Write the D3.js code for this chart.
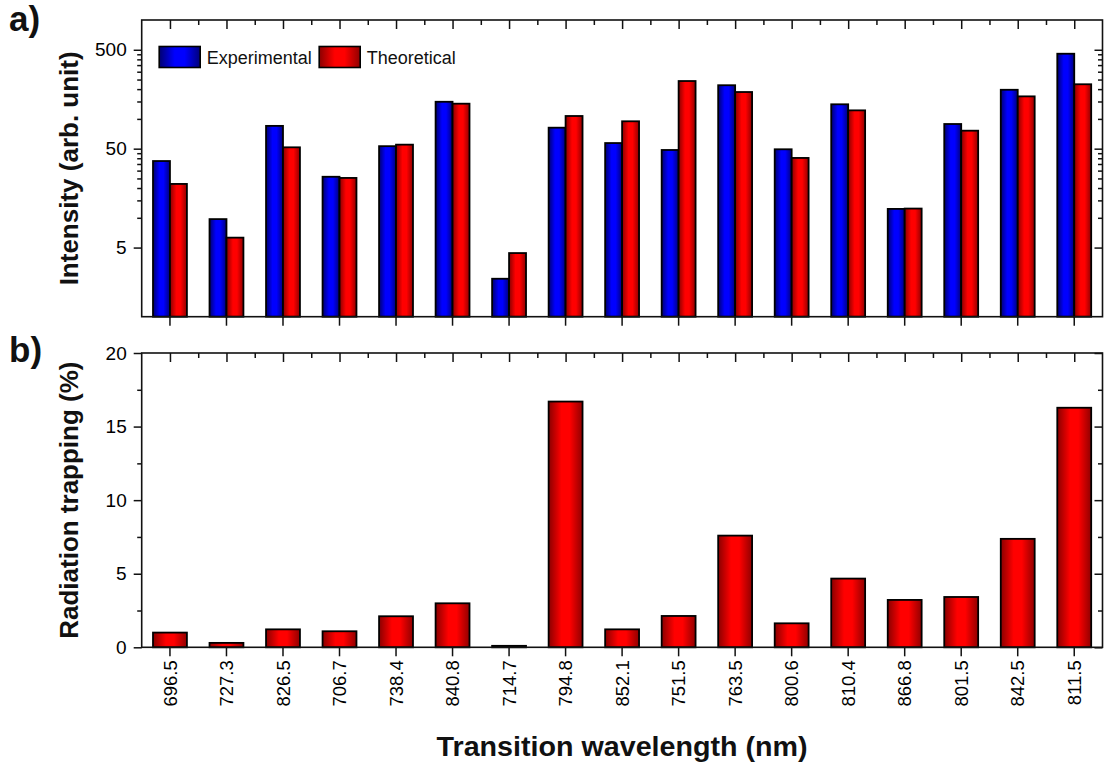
<!DOCTYPE html>
<html>
<head>
<meta charset="utf-8">
<script src="https://cdn.jsdelivr.net/npm/d3@7/dist/d3.min.js"></script>
<style>
  body { margin: 0; background: #fff; }
  svg { display: block; }
</style>
</head>
<body>
<div id="chart"></div>
<script>
// Data
const wavelengths = ["696.5", "727.3", "826.5", "706.7", "738.4", "840.8", "714.7", "794.8", "852.1",
  "751.5", "763.5", "800.6", "810.4", "866.8", "801.5", "842.5", "811.5"];
const experimental = [37.5, 9.7, 85, 26, 53, 149, 2.42, 81.5, 57, 48.5, 219, 49.3, 140.5, 12.3, 88.8, 197, 456];
const theoretical = [22, 6.3, 51.6, 25.3, 54.9, 142.5, 4.4, 107, 94.6, 241.5, 187, 40.3, 122, 12.4, 76, 169, 224];
const trapping = [1.0, 0.3, 1.22, 1.09, 2.11, 2.99, 0.1, 16.7, 1.22, 2.13, 7.59, 1.63, 4.67, 3.22, 3.42, 7.37, 16.28];

const intensityTicks = [5, 50, 500];
const intensityMinor = [10, 15, 20, 25, 30, 35, 40, 45, 100, 150, 200, 250, 300, 350, 400, 450];
const trappingTicks = [0, 5, 10, 15, 20];
const trappingMinor = [2.5, 7.5, 12.5, 17.5];
const seriesNames = ["Experimental", "Theoretical"];

// Layout
const width = 1104, height = 767;
const left = 141.7, right = 1102.5;
const panelA = { top: 20, bottom: 316.7 };
const panelB = { top: 353, bottom: 647.3 };
const font = "'Liberation Sans', Arial, Helvetica, sans-serif";

const svg = d3.select("#chart").append("svg")
  .attr("width", width)
  .attr("height", height)
  .style("font-family", font);

// Gradients for the bar fills (dark edges, bright middle)
const defs = svg.append("defs");
function addGradient(id, edgeL, mid, edgeR) {
  const g = defs.append("linearGradient").attr("id", id)
    .attr("x1", "0%").attr("x2", "100%").attr("y1", "0%").attr("y2", "0%");
  g.append("stop").attr("offset", "0%").attr("stop-color", edgeL);
  g.append("stop").attr("offset", "38%").attr("stop-color", mid);
  g.append("stop").attr("offset", "62%").attr("stop-color", mid);
  g.append("stop").attr("offset", "100%").attr("stop-color", edgeR);
}
addGradient("gradBlue", "#000070", "#0000ff", "#00007a");
addGradient("gradRed", "#8a0000", "#ff0000", "#900000");

// Scales
const x = d3.scaleBand()
  .domain(wavelengths)
  .range([left, right])
  .paddingInner(0.4)
  .paddingOuter(0.2);
const xIndex = d3.scaleLinear().domain([-0.5, wavelengths.length - 0.5]).range([left, right]);
const midpoints = d3.range(wavelengths.length - 1).map(i => i + 0.5);

const yA = d3.scaleLog().domain([1, 1000]).range([panelA.bottom, panelA.top]);
const yB = d3.scaleLinear().domain([0, 20]).range([panelB.bottom, panelB.top]);

function styleAxis(g) {
  g.select(".domain").remove();
  g.selectAll("line").attr("stroke", "#111").attr("stroke-width", 1.5);
  g.selectAll("text").attr("fill", "#000").style("font-family", font).style("font-size", "19px");
}

function drawFrameAxes(y, panel, major, minor) {
  // left axis: outward ticks
  svg.append("g").attr("transform", `translate(${left},0)`)
    .call(d3.axisLeft(y).tickValues(major).tickSize(8).tickPadding(7).tickFormat(d3.format("d")))
    .call(styleAxis);
  svg.append("g").attr("transform", `translate(${left},0)`)
    .call(d3.axisLeft(y).tickValues(minor).tickSize(4.5).tickFormat(""))
    .call(styleAxis);
  // right axis: inward ticks
  svg.append("g").attr("transform", `translate(${right},0)`)
    .call(d3.axisRight(y).tickValues(major).tickSize(-8).tickFormat(""))
    .call(styleAxis);
  svg.append("g").attr("transform", `translate(${right},0)`)
    .call(d3.axisRight(y).tickValues(minor).tickSize(-4.5).tickFormat(""))
    .call(styleAxis);
  // top axis: inward ticks at categories and midpoints
  svg.append("g").attr("transform", `translate(0,${panel.top})`)
    .call(d3.axisTop(xIndex).tickValues(d3.range(wavelengths.length)).tickSize(-9).tickFormat(""))
    .call(styleAxis);
  svg.append("g").attr("transform", `translate(0,${panel.top})`)
    .call(d3.axisTop(xIndex).tickValues(midpoints).tickSize(-5).tickFormat(""))
    .call(styleAxis);
  // frame
  svg.append("rect")
    .attr("x", left).attr("y", panel.top)
    .attr("width", right - left).attr("height", panel.bottom - panel.top)
    .attr("fill", "none").attr("stroke", "#111").attr("stroke-width", 1.6);
}

// ---------- Panel a) ----------
const half = x.bandwidth() / 2;
const gA = svg.append("g");
gA.selectAll(".bar-exp")
  .data(wavelengths)
  .enter().append("rect")
  .attr("class", "bar-exp")
  .attr("x", d => x(d))
  .attr("y", (d, i) => yA(experimental[i]))
  .attr("width", half)
  .attr("height", (d, i) => yA(1) - yA(experimental[i]))
  .attr("fill", "url(#gradBlue)")
  .attr("stroke", "#000").attr("stroke-width", 1.8);
gA.selectAll(".bar-th")
  .data(wavelengths)
  .enter().append("rect")
  .attr("class", "bar-th")
  .attr("x", d => x(d) + half)
  .attr("y", (d, i) => yA(theoretical[i]))
  .attr("width", half)
  .attr("height", (d, i) => yA(1) - yA(theoretical[i]))
  .attr("fill", "url(#gradRed)")
  .attr("stroke", "#000").attr("stroke-width", 1.8);

drawFrameAxes(yA, panelA, intensityTicks, intensityMinor);

// bottom axis of panel a): outward ticks only
svg.append("g").attr("transform", `translate(0,${panelA.bottom})`)
  .call(d3.axisBottom(x).tickSize(9).tickFormat(""))
  .call(styleAxis);

// legend
const legend = svg.append("g").attr("transform", `translate(${left + 17.5},${panelA.top + 26.5})`);
const legendItems = [
  { name: seriesNames[0], fill: "url(#gradBlue)", dx: 0 },
  { name: seriesNames[1], fill: "url(#gradRed)", dx: 160 }
];
legendItems.forEach(item => {
  legend.append("rect")
    .attr("x", item.dx).attr("y", 0)
    .attr("width", 41).attr("height", 21)
    .attr("fill", item.fill)
    .attr("stroke", "#000").attr("stroke-width", 1.6);
  legend.append("text")
    .attr("x", item.dx + 47.5).attr("y", 17)
    .style("font-size", "18px")
    .attr("fill", "#111")
    .text(item.name);
});

// y title a)
svg.append("text")
  .attr("transform", `translate(78,${(panelA.top + panelA.bottom) / 2}) rotate(-90)`)
  .attr("text-anchor", "middle")
  .style("font-size", "26px").style("font-weight", "bold")
  .attr("fill", "#111")
  .text("Intensity (arb. unit)");

svg.append("text")
  .attr("x", 9).attr("y", 31)
  .style("font-size", "35px").style("font-weight", "bold")
  .attr("fill", "#111")
  .text("a)");

// ---------- Panel b) ----------
svg.append("g").selectAll(".bar-trap")
  .data(wavelengths)
  .enter().append("rect")
  .attr("class", "bar-trap")
  .attr("x", d => x(d))
  .attr("y", (d, i) => yB(trapping[i]))
  .attr("width", x.bandwidth())
  .attr("height", (d, i) => yB(0) - yB(trapping[i]))
  .attr("fill", "url(#gradRed)")
  .attr("stroke", "#000").attr("stroke-width", 1.8);

drawFrameAxes(yB, panelB, trappingTicks, trappingMinor);

// bottom category axis with rotated labels
const xAxisB = svg.append("g").attr("transform", `translate(0,${panelB.bottom})`)
  .call(d3.axisBottom(x).tickSize(9))
  .call(styleAxis);
xAxisB.selectAll("text")
  .attr("transform", "rotate(-90)")
  .attr("x", -13).attr("y", 0)
  .attr("dy", "0.36em")
  .attr("text-anchor", "end")
  .style("font-size", "18.5px");

svg.append("text")
  .attr("transform", `translate(78,${(panelB.top + panelB.bottom) / 2}) rotate(-90)`)
  .attr("text-anchor", "middle")
  .style("font-size", "26px").style("font-weight", "bold")
  .attr("fill", "#111")
  .text("Radiation trapping (%)");

svg.append("text")
  .attr("x", 9).attr("y", 362)
  .style("font-size", "35px").style("font-weight", "bold")
  .attr("fill", "#111")
  .text("b)");

// x title
svg.append("text")
  .attr("x", (left + right) / 2).attr("y", 756)
  .attr("text-anchor", "middle")
  .attr("textLength", 371).attr("lengthAdjust", "spacingAndGlyphs")
  .style("font-size", "28px").style("font-weight", "bold")
  .attr("fill", "#111")
  .text("Transition wavelength (nm)");
</script>
</body>
</html>
